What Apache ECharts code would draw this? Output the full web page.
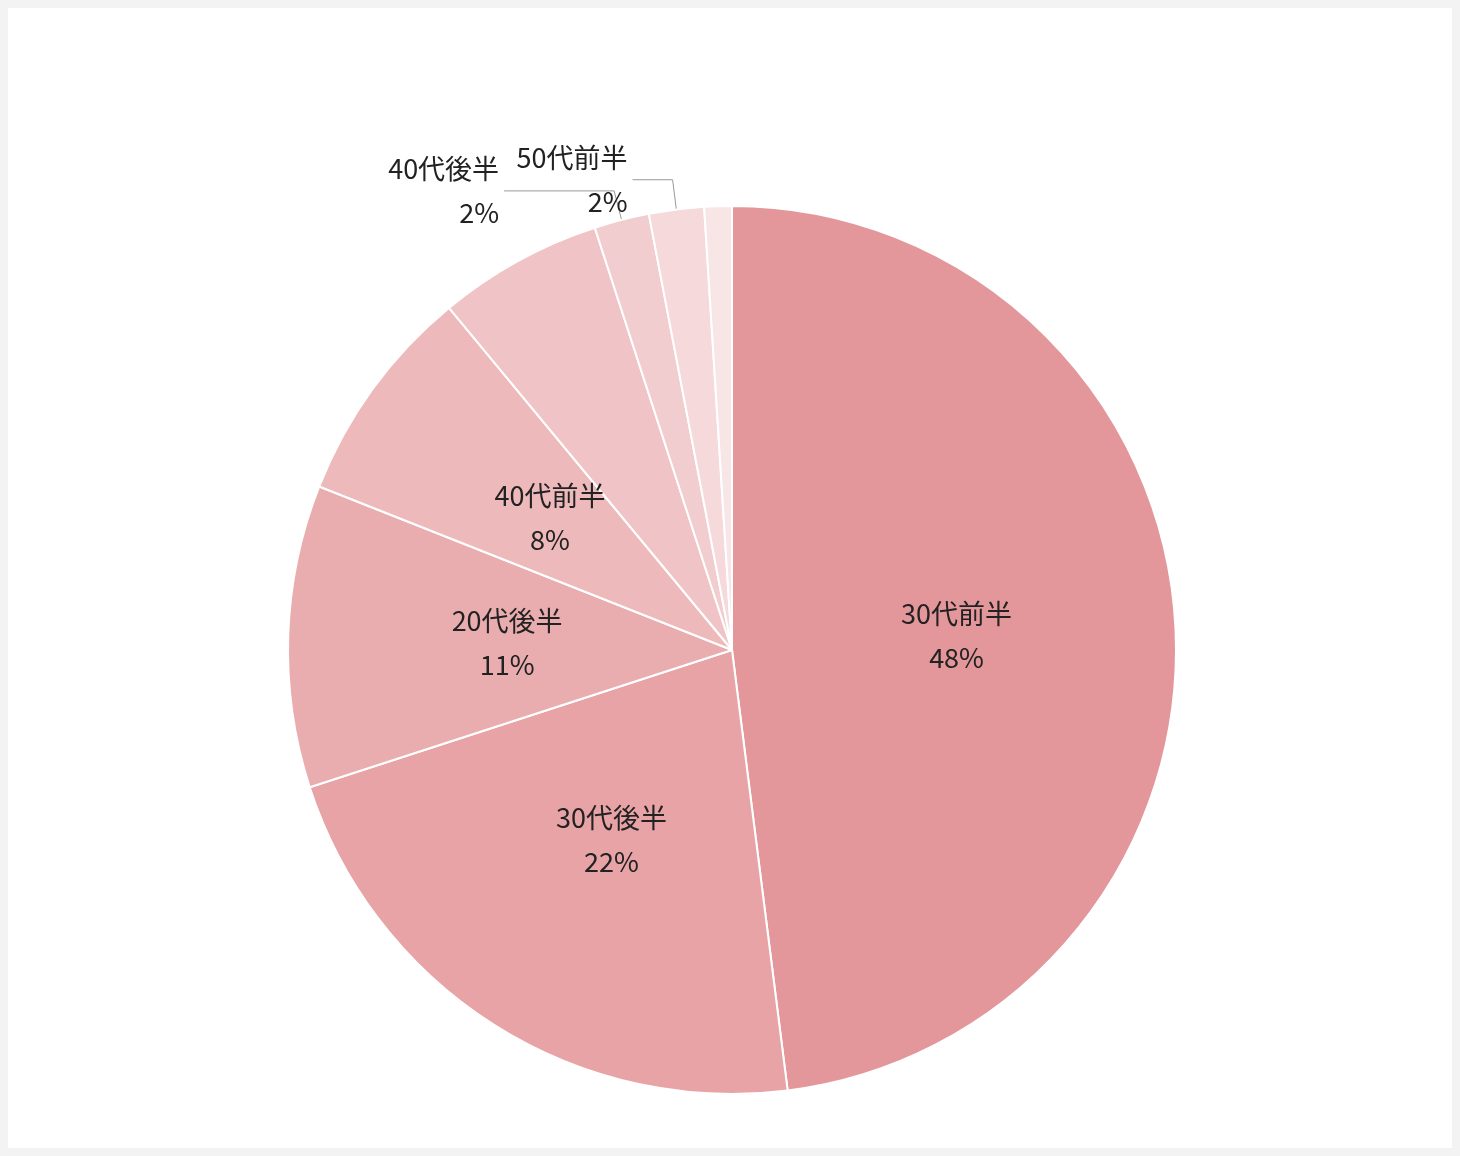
<!DOCTYPE html>
<html><head><meta charset="utf-8">
<script src="https://cdn.jsdelivr.net/npm/echarts@6/dist/echarts.min.js"></script>
<style>
html,body{margin:0;padding:0;background:#f3f3f3}
#box{position:absolute;left:8px;top:8px;width:1444px;height:1140px;background:#fff}
#chart{width:1444px;height:1140px}
</style></head>
<body><div id="box"><div id="chart"></div></div>
<script>
var names = ['30代前半', '30代後半', '20代後半', '40代前半', '20代前半', '40代後半', '50代前半', '60代以上']
var values = [48, 22, 11, 8, 6, 2, 2, 1]
var colors = ['#e3979b', '#e8a3a6', '#eaadaf', '#edb9bb', '#f0c4c6', '#f2cdcf', '#f5d9db', '#f8e5e6']
var outside = [false, false, false, false, false, true, true, true]
var len2 = [0, 0, 0, 0, 0, 110, 40, 0]

var chart = echarts.init(document.getElementById('chart'))
var data = names.map(function (n, i) {
  var item = { name: n, value: values[i], itemStyle: { color: colors[i] } }
  if (outside[i]) {
    item.label = { position: 'outside' }
    item.labelLine = { show: true, length: 30, length2: len2[i], lineStyle: { color: '#999', width: 1 } }
  } else {
    item.label = { position: 'inside' }
    item.labelLine = { show: false }
  }
  return item
})
chart.setOption({
  animation: false,
  series: [{
    type: 'pie',
    center: [724, 642],
    radius: [0, 444],
    startAngle: 90,
    clockwise: true,
    avoidLabelOverlap: false,
    itemStyle: { borderColor: '#fff', borderWidth: 2 },
    label: {
      formatter: '{b}\n{c}%',
      fontSize: 27,
      lineHeight: 44,
      color: '#222',
      align: 'center',
      fontFamily: 'Noto Sans CJK JP'
    },
    data: data
  }]
})
</script></body></html>
